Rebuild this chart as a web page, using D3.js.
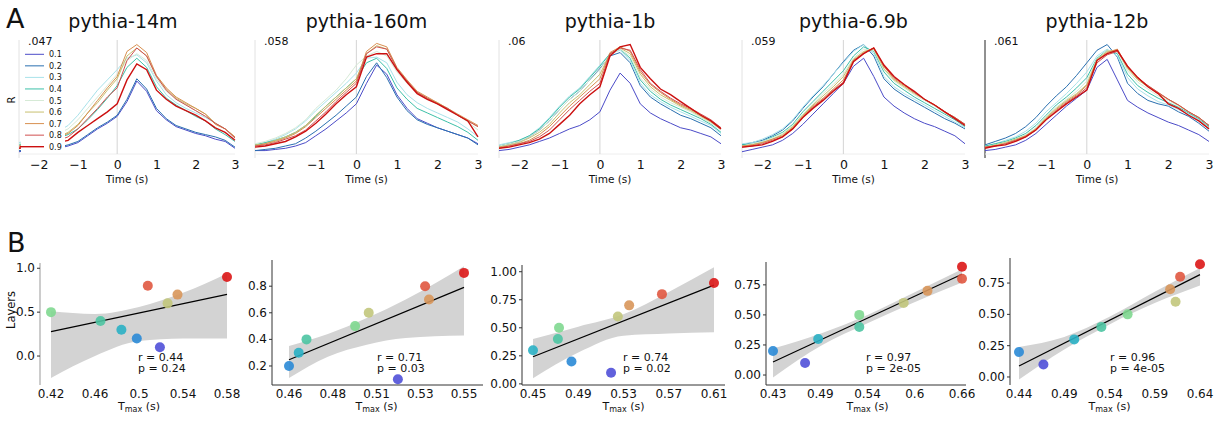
<!DOCTYPE html>
<html><head><meta charset="utf-8">
<script src="https://cdn.jsdelivr.net/npm/d3@7"></script>
<style>body{margin:0;background:#fff;} text{font-family:"DejaVu Sans",sans-serif;fill:#111;}</style>
</head><body><svg id="c" width="1221" height="422"></svg>
<script>
// ---------- DATA ----------
const layers = [0.1,0.2,0.3,0.4,0.5,0.6,0.7,0.8,0.9];
const layerLabels = ["0.1","0.2","0.3","0.4","0.5","0.6","0.7","0.8","0.9"];
const lineColors = ["#4b4bc8","#2a70b0","#a8e2ea","#3cc0a8","#d6ead6","#c8c070","#d89050","#d05050","#cc1010"];
const dotColors  = ["#5050d8","#2a8ad6","#2ab0c4","#4cc4a2","#80d890","#c2c67c","#d8965a","#e05840","#dc1616"];
const models = ["pythia-14m","pythia-160m","pythia-1b","pythia-6.9b","pythia-12b"];
const rMaxLabels = [".047",".058",".06",".059",".061"];
const timeTicks = [-2,-1,0,1,2,3];
const times = [-2.5,-2.25,-2,-1.75,-1.5,-1.25,-1,-0.75,-0.5,-0.25,0,0.25,0.5,0.75,1,1.25,1.5,1.75,2,2.25,2.5,2.75,3];

// normalised R (fraction of panel max), one row per layer 0.1..0.9
const r14m = [
 [0.02,0.03,0.03,0.04,0.05,0.07,0.10,0.16,0.22,0.27,0.33,0.46,0.64,0.55,0.38,0.30,0.24,0.21,0.18,0.16,0.13,0.11,0.05],
 [0.03,0.03,0.04,0.05,0.06,0.08,0.11,0.17,0.23,0.28,0.34,0.48,0.66,0.57,0.40,0.31,0.25,0.22,0.19,0.17,0.15,0.12,0.06],
 [0.10,0.12,0.14,0.17,0.20,0.25,0.34,0.45,0.56,0.65,0.74,0.84,0.87,0.80,0.64,0.52,0.45,0.40,0.36,0.32,0.27,0.22,0.14],
 [0.08,0.09,0.10,0.12,0.14,0.17,0.22,0.30,0.39,0.49,0.60,0.76,0.84,0.76,0.59,0.49,0.43,0.38,0.33,0.29,0.22,0.17,0.11],
 [0.09,0.10,0.12,0.15,0.18,0.22,0.30,0.40,0.50,0.60,0.70,0.82,0.88,0.82,0.66,0.55,0.48,0.43,0.38,0.33,0.27,0.22,0.14],
 [0.07,0.08,0.10,0.12,0.15,0.19,0.26,0.36,0.45,0.56,0.66,0.86,0.93,0.86,0.68,0.57,0.49,0.44,0.40,0.35,0.27,0.22,0.15],
 [0.07,0.08,0.10,0.12,0.15,0.18,0.25,0.36,0.47,0.58,0.68,0.90,0.96,0.89,0.69,0.58,0.50,0.45,0.40,0.35,0.26,0.22,0.15],
 [0.06,0.07,0.08,0.10,0.12,0.15,0.22,0.31,0.40,0.50,0.58,0.82,0.93,0.86,0.68,0.56,0.48,0.43,0.38,0.33,0.27,0.22,0.14],
 [0.05,0.06,0.07,0.08,0.10,0.12,0.19,0.25,0.31,0.37,0.44,0.65,0.79,0.74,0.56,0.48,0.42,0.38,0.34,0.29,0.23,0.19,0.12]
];
const r160m = [
 [0.03,0.03,0.04,0.05,0.07,0.10,0.16,0.22,0.29,0.36,0.44,0.62,0.78,0.70,0.52,0.40,0.31,0.27,0.23,0.20,0.17,0.14,0.09],
 [0.03,0.04,0.05,0.07,0.09,0.14,0.20,0.27,0.34,0.42,0.50,0.68,0.80,0.67,0.50,0.38,0.30,0.26,0.23,0.20,0.17,0.14,0.08],
 [0.08,0.10,0.13,0.17,0.22,0.29,0.38,0.46,0.54,0.62,0.71,0.84,0.85,0.80,0.63,0.52,0.45,0.40,0.36,0.32,0.28,0.22,0.15],
 [0.08,0.10,0.12,0.15,0.19,0.25,0.33,0.42,0.50,0.58,0.66,0.80,0.84,0.75,0.58,0.48,0.40,0.36,0.32,0.28,0.24,0.19,0.12],
 [0.09,0.11,0.14,0.18,0.23,0.30,0.40,0.48,0.56,0.66,0.78,0.86,0.90,0.86,0.72,0.62,0.54,0.48,0.44,0.40,0.34,0.28,0.21],
 [0.08,0.09,0.12,0.15,0.19,0.25,0.34,0.42,0.50,0.58,0.66,0.88,0.95,0.92,0.75,0.64,0.54,0.49,0.45,0.40,0.34,0.29,0.24],
 [0.07,0.09,0.11,0.14,0.18,0.24,0.32,0.40,0.48,0.56,0.64,0.90,0.97,0.94,0.76,0.65,0.55,0.50,0.45,0.40,0.35,0.30,0.25],
 [0.07,0.08,0.10,0.13,0.16,0.21,0.29,0.37,0.46,0.54,0.62,0.88,0.94,0.92,0.75,0.64,0.54,0.49,0.44,0.40,0.34,0.29,0.24],
 [0.06,0.07,0.09,0.11,0.15,0.20,0.27,0.35,0.44,0.52,0.59,0.85,0.88,0.88,0.74,0.63,0.53,0.48,0.44,0.39,0.34,0.29,0.15]
];
const r1b = [
 [0.03,0.04,0.06,0.08,0.11,0.14,0.18,0.22,0.25,0.30,0.37,0.56,0.71,0.62,0.44,0.36,0.31,0.27,0.23,0.21,0.18,0.15,0.09],
 [0.07,0.09,0.11,0.15,0.21,0.29,0.39,0.48,0.55,0.65,0.75,0.86,0.89,0.80,0.60,0.50,0.44,0.39,0.34,0.31,0.27,0.23,0.16],
 [0.08,0.10,0.12,0.16,0.23,0.32,0.42,0.51,0.58,0.68,0.78,0.88,0.91,0.82,0.62,0.52,0.46,0.41,0.37,0.33,0.29,0.25,0.18],
 [0.07,0.09,0.12,0.16,0.22,0.31,0.41,0.50,0.57,0.67,0.77,0.88,0.92,0.84,0.65,0.55,0.48,0.43,0.39,0.35,0.31,0.26,0.19],
 [0.07,0.09,0.11,0.15,0.21,0.29,0.39,0.48,0.55,0.65,0.74,0.87,0.92,0.86,0.67,0.57,0.50,0.45,0.41,0.37,0.32,0.27,0.21],
 [0.06,0.08,0.10,0.14,0.19,0.26,0.36,0.45,0.52,0.61,0.70,0.88,0.93,0.88,0.70,0.59,0.52,0.47,0.42,0.38,0.33,0.28,0.22],
 [0.06,0.07,0.09,0.12,0.17,0.24,0.33,0.42,0.50,0.58,0.66,0.89,0.94,0.90,0.72,0.61,0.54,0.48,0.43,0.39,0.34,0.29,0.23],
 [0.05,0.07,0.09,0.11,0.15,0.21,0.30,0.39,0.47,0.55,0.62,0.88,0.93,0.91,0.74,0.62,0.55,0.49,0.44,0.40,0.35,0.30,0.23],
 [0.05,0.06,0.08,0.10,0.13,0.18,0.26,0.34,0.44,0.52,0.59,0.86,0.94,0.96,0.76,0.66,0.57,0.52,0.46,0.40,0.34,0.29,0.22]
];
const r6_9b = [
 [0.02,0.04,0.06,0.08,0.12,0.18,0.26,0.35,0.44,0.53,0.62,0.77,0.84,0.68,0.50,0.42,0.36,0.31,0.27,0.24,0.20,0.16,0.09],
 [0.08,0.10,0.12,0.16,0.21,0.29,0.40,0.50,0.59,0.70,0.81,0.91,0.96,0.86,0.66,0.57,0.51,0.46,0.41,0.36,0.31,0.27,0.22],
 [0.09,0.10,0.13,0.17,0.22,0.30,0.41,0.51,0.60,0.70,0.80,0.90,0.96,0.88,0.68,0.59,0.53,0.48,0.43,0.38,0.33,0.28,0.23],
 [0.08,0.09,0.11,0.15,0.19,0.26,0.37,0.46,0.55,0.64,0.73,0.86,0.94,0.90,0.72,0.62,0.56,0.50,0.45,0.40,0.35,0.30,0.24],
 [0.07,0.09,0.11,0.14,0.18,0.25,0.35,0.44,0.53,0.61,0.70,0.84,0.92,0.91,0.74,0.64,0.58,0.52,0.47,0.42,0.36,0.31,0.25],
 [0.07,0.08,0.10,0.13,0.17,0.24,0.34,0.43,0.51,0.59,0.68,0.83,0.90,0.92,0.75,0.65,0.59,0.53,0.48,0.43,0.37,0.32,0.26],
 [0.07,0.08,0.10,0.13,0.16,0.23,0.33,0.42,0.49,0.57,0.65,0.82,0.89,0.93,0.77,0.66,0.60,0.54,0.48,0.43,0.37,0.32,0.26],
 [0.06,0.07,0.09,0.12,0.15,0.22,0.32,0.41,0.48,0.56,0.63,0.82,0.88,0.93,0.77,0.67,0.61,0.54,0.48,0.43,0.37,0.32,0.26],
 [0.06,0.07,0.08,0.11,0.15,0.22,0.32,0.40,0.47,0.55,0.62,0.81,0.88,0.93,0.78,0.68,0.61,0.55,0.48,0.43,0.37,0.31,0.25]
];
const r12b = [
 [0.03,0.04,0.06,0.08,0.12,0.18,0.26,0.34,0.42,0.49,0.56,0.76,0.83,0.65,0.47,0.41,0.36,0.32,0.28,0.25,0.21,0.17,0.11],
 [0.08,0.11,0.14,0.18,0.24,0.32,0.42,0.51,0.59,0.69,0.80,0.91,0.96,0.85,0.62,0.53,0.47,0.44,0.42,0.37,0.33,0.27,0.20],
 [0.07,0.09,0.12,0.15,0.20,0.27,0.37,0.45,0.53,0.62,0.72,0.86,0.92,0.86,0.67,0.57,0.51,0.46,0.43,0.39,0.35,0.30,0.23],
 [0.07,0.09,0.11,0.14,0.18,0.25,0.34,0.43,0.50,0.58,0.67,0.84,0.91,0.88,0.70,0.60,0.54,0.49,0.45,0.41,0.36,0.31,0.24],
 [0.06,0.08,0.10,0.13,0.17,0.23,0.33,0.41,0.48,0.55,0.64,0.83,0.91,0.90,0.73,0.63,0.57,0.51,0.47,0.42,0.37,0.32,0.25],
 [0.06,0.08,0.10,0.13,0.16,0.22,0.32,0.40,0.47,0.53,0.61,0.83,0.90,0.91,0.75,0.65,0.59,0.53,0.48,0.43,0.37,0.32,0.25],
 [0.06,0.07,0.09,0.12,0.16,0.22,0.31,0.39,0.46,0.52,0.60,0.82,0.89,0.92,0.76,0.66,0.60,0.54,0.48,0.43,0.37,0.32,0.25],
 [0.06,0.07,0.09,0.12,0.15,0.21,0.30,0.38,0.45,0.51,0.58,0.80,0.87,0.90,0.77,0.67,0.60,0.54,0.48,0.43,0.37,0.32,0.25],
 [0.05,0.07,0.08,0.11,0.15,0.21,0.30,0.37,0.44,0.50,0.56,0.82,0.88,0.91,0.77,0.67,0.59,0.53,0.44,0.40,0.34,0.29,0.22]
];
const curves = [r14m, r160m, r1b, r6_9b, r12b];

// Panel B: T_max per layer (0.1..0.9)
const tmax14m  = [0.519,0.498,0.484,0.465,0.420,0.526,0.535,0.508,0.580];
const tmax160m = [0.516,0.460,0.465,0.469,0.494,0.501,0.532,0.530,0.550];
const tmax1b   = [0.519,0.484,0.450,0.472,0.473,0.525,0.535,0.564,0.610];
const tmax6_9b = [0.469,0.430,0.485,0.535,0.535,0.589,0.618,0.660,0.660];
const tmax12b  = [0.467,0.440,0.501,0.531,0.560,0.613,0.607,0.618,0.640];
const tmaxAll = [tmax14m, tmax160m, tmax1b, tmax6_9b, tmax12b];

const xTickLabels = [
 ["0.42","0.46","0.5","0.54","0.58"],
 ["0.46","0.48","0.51","0.53","0.55"],
 ["0.45","0.49","0.53","0.57","0.61"],
 ["0.43","0.49","0.54","0.6","0.66"],
 ["0.44","0.49","0.54","0.59","0.64"]
];
const yTicks = [[0,0.5,1.0],[0.2,0.4,0.6,0.8],[0,0.25,0.5,0.75,1.0],[0,0.25,0.5,0.75],[0,0.25,0.5,0.75]];
const yTickFmt = [".1f",".1f",".2f",".2f",".2f"];
const yDomains = [[-0.33,1.06],[0.057,0.997],[-0.01,1.06],[-0.083,0.94],[-0.064,0.95]];
const rTexts = ["r = 0.44","r = 0.71","r = 0.74","r = 0.97","r = 0.96"];
const pTexts = ["p = 0.24","p = 0.03","p = 0.02","p = 2e-05","p = 4e-05"];

// bootstrap CI band
const bandX = [[0.42,0.46,0.50,0.54,0.58],[0.46,0.48,0.50,0.52,0.55],[0.45,0.49,0.53,0.57,0.61],[0.43,0.49,0.545,0.60,0.66],[0.44,0.49,0.54,0.59,0.64]];
const bandHi = [[0.51,0.48,0.56,0.72,0.94],[0.35,0.44,0.56,0.70,0.95],[0.40,0.51,0.62,0.82,1.04],[0.22,0.35,0.50,0.68,0.88],[0.24,0.32,0.48,0.68,0.87]];
const bandLo = [[-0.25,0.0,0.17,0.2,0.2],[0.11,0.27,0.36,0.41,0.43],[0.05,0.28,0.43,0.45,0.46],[-0.02,0.25,0.43,0.60,0.77],[-0.02,0.22,0.42,0.59,0.73]];

// ---------- LAYOUT ----------
const svg = d3.select("#c");
const aLeft = [19,255,499,742,985], aRight = [235,478,721,965,1209];
const aTop = 40, aBottom = 154;

svg.append("text").attr("x",6).attr("y",28).attr("font-size",27).text("A");
svg.append("text").attr("x",7).attr("y",252).attr("font-size",27).text("B");

const tfmt = d => d < 0 ? "\u2212" + Math.abs(d) : String(d);

models.forEach((m,p)=>{
  const x = d3.scaleLinear().domain([-2.5,3]).range([aLeft[p],aRight[p]]);
  const y = d3.scaleLinear().domain([0,1]).range([aBottom,aTop]);
  const g = svg.append("g");
  g.append("line").attr("x1",aLeft[p]).attr("x2",aLeft[p]).attr("y1",aTop).attr("y2",aBottom+4)
    .attr("stroke", p===4 ? "#222" : "#e2e2e2").attr("stroke-width",1);
  g.append("line").attr("x1",aLeft[p]).attr("x2",aRight[p]).attr("y1",aBottom).attr("y2",aBottom)
    .attr("stroke","#eeeeee");
  g.append("line").attr("x1",x(0)).attr("x2",x(0)).attr("y1",aTop).attr("y2",aBottom).attr("stroke","#d4d4d4");
  const line = d3.line().x((d,i)=>x(times[i])).y(d=>y(d));
  curves[p].forEach((c,i)=>{
    g.append("path").attr("d",line(c)).attr("fill","none").attr("stroke",lineColors[i])
     .attr("stroke-width", i===8 ? 1.4 : 1);
  });
  const ax = g.append("g").attr("transform",`translate(0,${aBottom+6})`)
    .call(d3.axisBottom(x).tickValues(timeTicks).tickFormat(tfmt).tickSize(0).tickPadding(0));
  ax.select(".domain").remove();
  ax.selectAll("text").attr("font-size",12.5).attr("font-family","DejaVu Sans").attr("fill","#111");
  g.append("text").attr("x",(aLeft[p]+aRight[p])/2).attr("y",183).attr("text-anchor","middle").attr("font-size",10.5).text("Time (s)");
  g.append("text").attr("x",(aLeft[p]+aRight[p])/2 - (p===0?4:0)).attr("y",28).attr("text-anchor","middle").attr("font-size",19).text(m);
  g.append("text").attr("x",aLeft[p]+9).attr("y",45).attr("font-size",11).text(rMaxLabels[p]);
  if(p===0){
    // legend
    g.append("rect").attr("x",aLeft[p]+2).attr("y",48).attr("width",44).attr("height",104).attr("fill","#fff");
    layerLabels.forEach((l,i)=>{
      const yy = 54.3 + i*11.55;
      g.append("line").attr("x1", i===8 ? 20 : 25).attr("x2",44).attr("y1",yy).attr("y2",yy)
       .attr("stroke",lineColors[i]).attr("stroke-width", i===8?1.4:1);
      g.append("text").attr("x",49).attr("y",yy+3).attr("font-size",8).attr("fill","#333").text(l);
    });
    g.append("text").attr("transform","translate(15,100) rotate(-90)").attr("text-anchor","middle").attr("font-size",10).text("R");
  }
});

// ---------- PANEL B ----------
const bAxisX = [40,272,522,766,1010];
const bX0 = [51,289,533,773,1019], bX1 = [227,464,714,962,1200];
const bRight = [236,483,725,966,1210];
const bTop = [263,260,265,262,258], bBottom = 385;
const hasXAxisLine = [false,true,true,true,false];
const statX = [138,377,623,866,1110];

function linreg(xs, ys){
  const mx = d3.mean(xs), my = d3.mean(ys);
  let sxy=0, sxx=0;
  xs.forEach((v,i)=>{ sxy += (v-mx)*(ys[i]-my); sxx += (v-mx)*(v-mx); });
  const b = sxy/sxx; return {a: my - b*mx, b};
}

tmaxAll.forEach((tm,p)=>{
  const ext = d3.extent(tm);
  const x = d3.scaleLinear().domain(ext).range([bX0[p],bX1[p]]);
  const y = d3.scaleLinear().domain(yDomains[p]).range([bBottom,bTop[p]]);
  const g = svg.append("g");
  const bandData = bandX[p].map((t,i)=>({t, hi: bandHi[p][i], lo: bandLo[p][i]}));
  g.append("path").attr("d", d3.area().x(d=>x(d.t)).y0(d=>y(d.lo)).y1(d=>y(d.hi)).curve(d3.curveMonotoneX)(bandData))
    .attr("fill","#d3d3d3");
  const r = linreg(tm, layers);
  g.append("line").attr("x1",x(ext[0])).attr("x2",x(ext[1]))
    .attr("y1",y(r.a + r.b*ext[0])).attr("y2",y(r.a + r.b*ext[1]))
    .attr("stroke","#000").attr("stroke-width",1.2);
  tm.forEach((t,i)=>{
    g.append("circle").attr("cx",x(t)).attr("cy",y(layers[i])).attr("r",5)
      .attr("fill",dotColors[i]).attr("fill-opacity",0.9);
  });
  g.append("line").attr("x1",bAxisX[p]).attr("x2",bAxisX[p]).attr("y1",bTop[p]).attr("y2",bBottom)
    .attr("stroke", p===0 ? "#999" : "#333").attr("stroke-width",1);
  if(hasXAxisLine[p]) g.append("line").attr("x1",bAxisX[p]).attr("x2",bRight[p]).attr("y1",bBottom).attr("y2",bBottom)
    .attr("stroke","#333");
  const fmt = d3.format(yTickFmt[p]);
  yTicks[p].forEach(v=>{
    g.append("line").attr("x1",bAxisX[p]-3).attr("x2",bAxisX[p]).attr("y1",y(v)).attr("y2",y(v)).attr("stroke","#333");
    g.append("text").attr("x",bAxisX[p]-5).attr("y",y(v)+4).attr("text-anchor","end").attr("font-size",12).text(fmt(v));
  });
  const ticks = d3.range(5).map(k=> ext[0] + k*(ext[1]-ext[0])/4);
  ticks.forEach((v,k)=>{
    g.append("text").attr("x",x(v)).attr("y",398).attr("text-anchor","middle").attr("font-size",12).text(xTickLabels[p][k]);
  });
  const xl = g.append("text").attr("x",(bX0[p]+bX1[p])/2).attr("y",410).attr("text-anchor","middle").attr("font-size",11);
  xl.append("tspan").text("T");
  xl.append("tspan").attr("font-size",8).attr("dy",2).text("max");
  xl.append("tspan").attr("dy",-2).text(" (s)");
  g.append("text").attr("x",statX[p]).attr("y",361).attr("font-size",11).text(rTexts[p]);
  g.append("text").attr("x",statX[p]).attr("y",372).attr("font-size",11).text(pTexts[p]);
  if(p===0) g.append("text").attr("transform","translate(15,310) rotate(-90)").attr("text-anchor","middle").attr("font-size",11.5).text("Layers");
});
</script></body></html>
